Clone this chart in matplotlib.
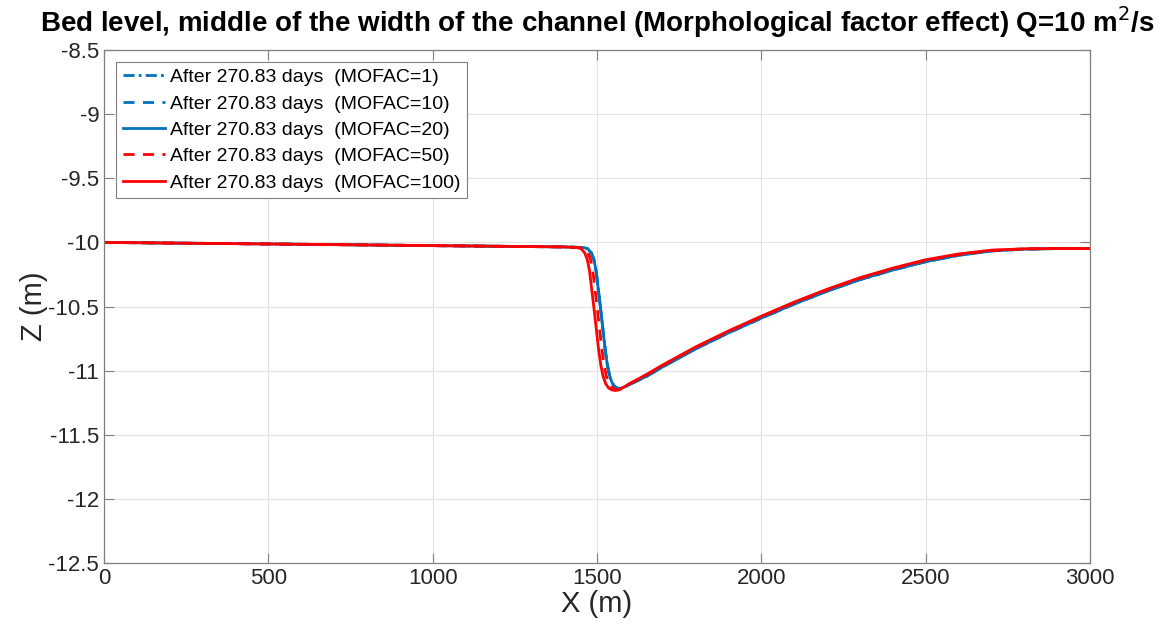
import matplotlib.pyplot as plt
from matplotlib.ticker import FormatStrFormatter
import numpy as np

# distance along channel (m) and bed level (m)
x_red = [0, 500, 1000, 1400, 1440, 1452, 1462, 1470, 1477, 1483, 1490, 1497, 1504, 1511,
         1518, 1526, 1535, 1545, 1555, 1565, 1580, 1600, 1650, 1700, 1750, 1800, 1900,
         2000, 2100, 2200, 2300, 2400, 2500, 2600, 2700, 2800, 2900, 3000]
z_100 = [-10.0, -10.012, -10.025, -10.035, -10.04, -10.05, -10.08, -10.13, -10.22, -10.35,
         -10.5, -10.66, -10.82, -10.95, -11.04, -11.1, -11.135, -11.15, -11.155, -11.15,
         -11.13, -11.1, -11.03, -10.955, -10.885, -10.815, -10.69, -10.575, -10.465, -10.365,
         -10.275, -10.2, -10.135, -10.09, -10.06, -10.05, -10.048, -10.048]

x_red_dash = [0, 500, 1000, 1400, 1450, 1462, 1472, 1480, 1487, 1493, 1500, 1507, 1514, 1521,
              1528, 1536, 1545, 1554, 1563, 1572, 1585, 1600, 1650, 1700, 1750, 1800, 1900,
              2000, 2100, 2200, 2300, 2400, 2500, 2600, 2700, 2800, 2900, 3000]
z_50 = [-10.0, -10.012, -10.025, -10.035, -10.04, -10.05, -10.08, -10.13, -10.22, -10.35,
        -10.5, -10.66, -10.82, -10.95, -11.04, -11.1, -11.13, -11.145, -11.15, -11.145,
        -11.125, -11.1, -11.035, -10.96, -10.89, -10.82, -10.695, -10.58, -10.47, -10.37,
        -10.28, -10.205, -10.14, -10.095, -10.063, -10.05, -10.048, -10.048]

x_blue = [0, 500, 1000, 1400, 1460, 1472, 1482, 1490, 1497, 1503, 1510, 1517, 1524, 1531,
          1538, 1545, 1552, 1560, 1568, 1577, 1590, 1605, 1650, 1700, 1750, 1800, 1900,
          2000, 2100, 2200, 2300, 2400, 2500, 2600, 2700, 2800, 2900, 3000]
z_1 = [-10.0, -10.012, -10.025, -10.035, -10.04, -10.05, -10.08, -10.13, -10.22, -10.35,
       -10.5, -10.66, -10.82, -10.95, -11.04, -11.09, -11.12, -11.135, -11.14, -11.135,
       -11.12, -11.1, -11.045, -10.97, -10.9, -10.83, -10.705, -10.59, -10.48, -10.38,
       -10.29, -10.215, -10.15, -10.1, -10.066, -10.052, -10.048, -10.048]
z_10 = z_1
z_20 = z_1

blue = '#0072BD'
red = '#FF0000'
series = [
    (x_blue, z_1, blue, (0, (4, 1.5, 1, 1.5)), 'After 270.83 days  (MOFAC=1)'),
    (x_blue, z_10, blue, (0, (4, 3)), 'After 270.83 days  (MOFAC=10)'),
    (x_blue, z_20, blue, '-', 'After 270.83 days  (MOFAC=20)'),
    (x_red_dash, z_50, red, (0, (4, 3)), 'After 270.83 days  (MOFAC=50)'),
    (x_red, z_100, red, '-', 'After 270.83 days  (MOFAC=100)'),
]

plt.rcParams['font.family'] = ['Liberation Sans', 'DejaVu Sans']

fig = plt.figure(figsize=(11.73, 6.34), dpi=100)
ax = fig.add_axes([0.0887, 0.112, 0.8406, 0.809])
for xs, zs, c, ls, lab in series:
    ax.plot(xs, zs, color=c, linestyle=ls, linewidth=2, label=lab)

ax.set_xlim(0, 3000)
ax.set_ylim(-12.5, -8.5)
ax.set_xticks(np.arange(0, 3001, 500))
ax.set_yticks(np.arange(-12.5, -8.49, 0.5))
ax.yaxis.set_major_formatter(FormatStrFormatter('%g'))
ax.grid(True, color='#e3e3e3', linewidth=0.8)
ax.set_axisbelow(True)
ax.tick_params(direction='in', top=True, right=True, length=7, width=0.8,
               color='#808080', labelcolor='#262626', labelsize=16)
for s in ax.spines.values():
    s.set_color('#808080')
    s.set_linewidth(0.9)

ax.set_xlabel('X (m)', fontsize=21, color='#262626', labelpad=1)
ax.set_ylabel('Z (m)', fontsize=21, color='#262626', labelpad=0)
ax.set_title('Bed level, middle of the width of the channel (Morphological factor effect) Q=10 m$^2$/s',
             fontsize=20, fontweight='bold', pad=13)

leg = ax.legend(loc='upper left', fontsize=14, handlelength=2.2, handletextpad=0.25,
                labelspacing=0.45, borderpad=0.35, borderaxespad=0.6, fancybox=False,
                framealpha=1, edgecolor='#808080')
leg.get_frame().set_linewidth(0.8)

fig.savefig('out.png', dpi=100)
